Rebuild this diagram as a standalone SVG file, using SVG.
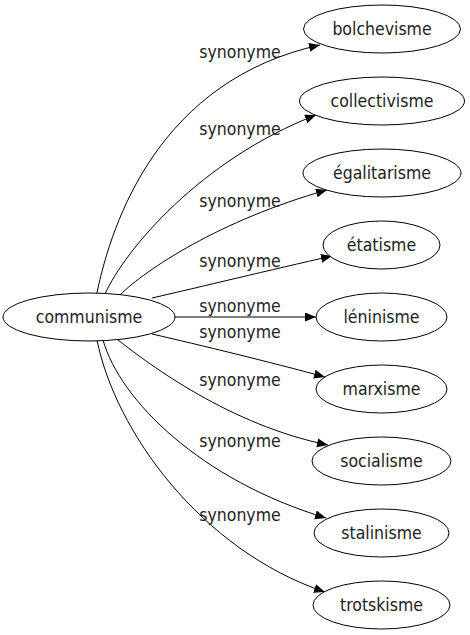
<svg xmlns="http://www.w3.org/2000/svg" width="470" height="635" viewBox="0 0 470 635">
<style>
.n ellipse{fill:#fff;stroke:#000;stroke-width:1}
text{font-family:"DejaVu Sans Condensed","DejaVu Sans",sans-serif;font-stretch:condensed;font-size:17.5px;fill:#222}
.n text{text-anchor:middle}
.e path{fill:none;stroke:#000;stroke-width:1;marker-end:url(#ah)}
.e text{text-anchor:middle}
</style>
<defs>
<marker id="ah" markerWidth="12" markerHeight="10" refX="11" refY="4.5" orient="auto" markerUnits="userSpaceOnUse">
<path d="M0,0 L11,4.5 L0,9 Z" fill="#000"/>
</marker>
</defs>
<rect width="470" height="635" fill="#fff"/>
<g class="e" id="edges">
<path d="M96.7,294 C112,220 160,80 320,45"/>
<text x="240" y="58">synonyme</text>
<path d="M105,294 C125,250 200,160 316,115"/>
<text x="240" y="135">synonyme</text>
<path d="M120,295 C145,270 220,220 327,190"/>
<text x="240" y="207">synonyme</text>
<path d="M152,298 C200,287 270,270 332,256"/>
<text x="240" y="267">synonyme</text>
<path d="M175,317 L316,317"/>
<text x="240" y="312">synonyme</text>
<path d="M152,334 C200,345 270,362 325,377"/>
<text x="240" y="338">synonyme</text>
<path d="M118,340 C150,365 230,425 328,445"/>
<text x="240" y="386">synonyme</text>
<path d="M103,340 C120,400 200,480 326,518"/>
<text x="240" y="447">synonyme</text>
<path d="M97,340 C115,430 200,550 325,592"/>
<text x="240" y="521">synonyme</text>
</g>
<g class="n" id="communisme"><ellipse cx="89" cy="317" rx="86" ry="24"/><text x="89" y="323">communisme</text></g>
<g class="n" id="bolchevisme"><ellipse cx="382" cy="29" rx="78.5" ry="24"/><text x="382" y="35">bolchevisme</text></g>
<g class="n" id="collectivisme"><ellipse cx="382" cy="101" rx="82.5" ry="24"/><text x="382" y="107">collectivisme</text></g>
<g class="n" id="egalitarisme"><ellipse cx="382" cy="173" rx="79" ry="24"/><text x="382" y="179">égalitarisme</text></g>
<g class="n" id="etatisme"><ellipse cx="381.5" cy="245" rx="58.5" ry="24"/><text x="381.5" y="251">étatisme</text></g>
<g class="n" id="leninisme"><ellipse cx="381.5" cy="317" rx="65.5" ry="24"/><text x="381.5" y="323">léninisme</text></g>
<g class="n" id="marxisme"><ellipse cx="381.5" cy="389" rx="65.5" ry="24"/><text x="381.5" y="395">marxisme</text></g>
<g class="n" id="socialisme"><ellipse cx="381.5" cy="461" rx="69.5" ry="24"/><text x="381.5" y="467">socialisme</text></g>
<g class="n" id="stalinisme"><ellipse cx="381.5" cy="533" rx="67.5" ry="24"/><text x="381.5" y="539">stalinisme</text></g>
<g class="n" id="trotskisme"><ellipse cx="381.5" cy="605" rx="68.5" ry="24"/><text x="381.5" y="611">trotskisme</text></g>
</svg>
